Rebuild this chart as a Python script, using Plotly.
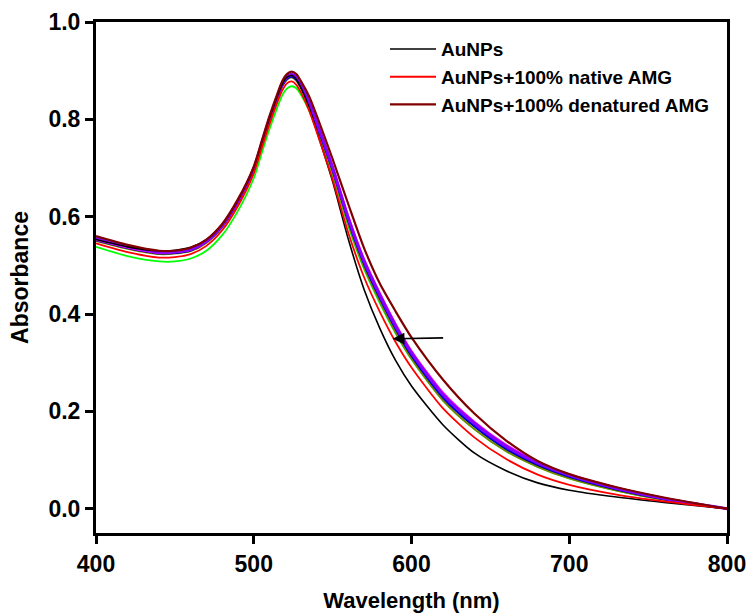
import plotly.graph_objects as go

# UV-Vis spectra of gold nanoparticles with alpha-2-macroglobulin (AMG)
wavelength = [400, 420, 440, 450, 460, 470, 480, 490, 500, 505, 510, 515, 518, 521, 524, 527, 530, 535,
              540, 550, 560, 570, 580, 590, 600, 620, 640, 660, 680, 700, 730, 760, 800]

aunps = [.553, .538, .530, .531, .537, .553, .584, .634, .701,
         .752, .802, .848, .872, .886, .890, .882, .864, .825,
         .775, .672, .553, .450, .370, .304, .252, .172, .114, .078, .053, .038, .024, .013, 0]
native_amg = [.545, .527, .516, .517, .523, .540, .572, .622, .689,
              .740, .790, .835, .859, .874, .878, .871, .855, .819,
              .773, .676, .566, .475, .404, .342, .290, .206, .146, .102, .070, .049, .029, .015, 0]
denatured_amg = [.560, .542, .530, .530, .536, .553, .585, .636, .703,
                 .755, .807, .853, .878, .893, .898, .893, .878, .848,
                 .807, .718, .625, .535, .462, .405, .352, .265, .195, .140, .098, .071, .044, .023, 0]

# intermediate titration spectra
s_green = [.538, .519, .508, .508, .514, .530, .562, .612, .679,
           .730, .780, .825, .849, .863, .868, .864, .850, .819,
           .777, .685, .580, .492, .422, .360, .307, .222, .163, .118, .086, .062, .037, .018, 0]
s_olive = [.550, .534, .523, .524, .529, .546, .578, .628, .695,
           .746, .796, .842, .867, .881, .886, .879, .863, .828,
           .783, .690, .584, .495, .425, .362, .308, .222, .163, .118, .086, .062, .037, .018, 0]
s_navy = [.551, .535, .524, .525, .530, .547, .579, .629, .696,
          .747, .797, .843, .868, .882, .887, .881, .865, .830,
          .786, .694, .589, .501, .431, .368, .313, .227, .168, .122, .089, .065, .039, .019, 0]
s_blue = [.552, .536, .525, .526, .531, .548, .580, .630, .697,
          .748, .798, .844, .869, .883, .888, .882, .866, .832,
          .788, .696, .591, .503, .433, .370, .315, .229, .170, .124, .091, .066, .040, .020, 0]
s_purple = [.556, .540, .527, .528, .533, .550, .582, .632, .699,
            .750, .801, .847, .873, .887, .893, .887, .872, .838,
            .794, .701, .597, .509, .439, .376, .321, .235, .176, .129, .094, .069, .042, .021, 0]
s_magenta = [.553, .537, .526, .527, .532, .549, .581, .631, .698,
             .749, .800, .846, .872, .886, .891, .885, .870, .837,
             .794, .703, .600, .512, .442, .379, .324, .238, .178, .131, .096, .070, .043, .021, 0]
s_violet = [.555, .539, .527, .528, .533, .550, .582, .632, .699,
            .750, .801, .847, .872, .887, .892, .886, .871, .837,
            .793, .700, .596, .508, .438, .375, .320, .234, .175, .128, .094, .069, .042, .021, 0]

x_ticks = [400, 500, 600, 700, 800]
y_ticks = [0.0, 0.2, 0.4, 0.6, 0.8, 1.0]

# arrow marking the shift of the spectra (tail -> head)
arrow_tail = (621, 0.351)
arrow_head = (588, 0.349)

FONT = "Liberation Sans, Arial, sans-serif"

fig = go.Figure()

legend_series = [
    ("AuNPs", aunps, "#000000", 1.6),
    ("AuNPs+100% native AMG", native_amg, "#FF0000", 1.8),
    ("AuNPs+100% denatured AMG", denatured_amg, "#800000", 2.2),
]
extra_series = [
    (s_green, "#00FF00", 1.8),
    (s_olive, "#808000", 1.8),
    (s_navy, "#000080", 1.5),
    (s_blue, "#0000FF", 1.6),
    (s_purple, "#800080", 2.0),
    (s_magenta, "#FF00FF", 2.2),
    (s_violet, "#8800FF", 3.0),
]

for vals, color, w in extra_series:
    fig.add_trace(go.Scatter(x=wavelength, y=vals, mode="lines", showlegend=False,
                             line=dict(color=color, width=w, shape="spline", smoothing=0.7)))

for name, vals, color, w in legend_series:
    fig.add_trace(go.Scatter(x=wavelength, y=vals, mode="lines", name=name,
                             line=dict(color=color, width=w, shape="spline", smoothing=0.7)))

fig.add_annotation(x=arrow_head[0], y=arrow_head[1], ax=arrow_tail[0], ay=arrow_tail[1],
                   xref="x", yref="y", axref="x", ayref="y", text="", showarrow=True,
                   arrowhead=2, arrowsize=1.4, arrowwidth=1.7, arrowcolor="#000000")

axis_common = dict(showline=True, linewidth=3, linecolor="#000000", mirror=True,
                   ticks="outside", ticklen=8, tickwidth=3, tickcolor="#000000",
                   showgrid=False, zeroline=False, automargin=False,
                   ticklabeloverflow="allow",
                   tickfont=dict(family=FONT, size=23, color="#000000", weight="bold"))

fig.update_xaxes(range=[400, 800], tickvals=x_ticks, ticktext=[str(v) for v in x_ticks],
                 title=dict(text="Wavelength (nm)", standoff=20,
                            font=dict(family=FONT, size=22, color="#000000", weight="bold")),
                 **axis_common)
fig.update_yaxes(range=[-0.05, 1.0], tickvals=y_ticks, ticktext=[f"{v:.1f}" for v in y_ticks],
                 title=dict(text="Absorbance", standoff=14,
                            font=dict(family=FONT, size=23, color="#000000", weight="bold")),
                 **axis_common)

fig.update_layout(
    width=746, height=613,
    margin=dict(l=96, r=19, t=22, b=80),
    paper_bgcolor="#FFFFFF", plot_bgcolor="#FFFFFF",
    showlegend=True,
    legend=dict(x=0.458, y=0.984, xanchor="left", yanchor="top",
                bgcolor="rgba(0,0,0,0)", borderwidth=0, tracegroupgap=0,
                itemwidth=46, traceorder="normal",
                font=dict(family=FONT, size=19, color="#000000", weight="bold")),
)

fig.write_html("out.html")
